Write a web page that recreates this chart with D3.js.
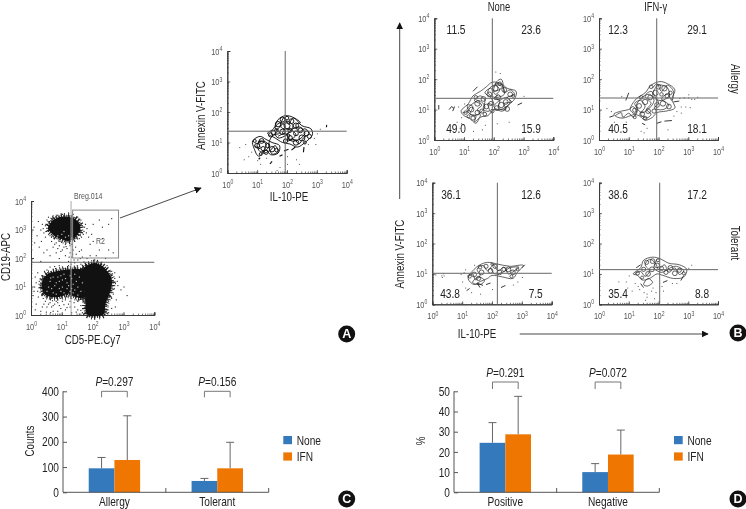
<!DOCTYPE html>
<html><head><meta charset="utf-8">
<script src="https://cdn.jsdelivr.net/npm/d3@7/dist/d3.min.js"></script>
<style>
html,body{margin:0;padding:0;background:#fff}
svg{display:block;filter:blur(0.35px)}
text{font-family:"Liberation Sans",sans-serif;fill:#222}
</style></head><body>
<svg id="c" width="746" height="509"></svg>
<script>
// Bar panels
const allergyCats=["Allergy","Tolerant"];
const apoptosisCats=["Positive","Negative"];
const seriesNames=["None","IFN"];
const countsNone=[95,45], countsIfn=[128,95];
const countsNoneTop=[138,55], countsIfnTop=[303,198];
const pctNone=[24.5,10], pctIfn=[28.7,18.7];
const pctNoneTop=[34.5,14.2], pctIfnTop=[47.5,30.8];
const countsP=["0.297","0.156"], pctP=["0.291","0.072"];
// Flow plots: all coordinates in decades (log10)
const quadAllergyNone=["11.5","23.6","49.0","15.9"];
const quadAllergyIfn=["12.3","29.1","40.5","18.1"];
const quadTolerantNone=["36.1","12.6","43.8","7.5"];
const quadTolerantIfn=["38.6","17.2","35.4","8.8"];
const decades=[0,1,2,3,4];

const scatterBlobs=[
[[0.55,3.05],[0.75,3.35],[1.0,3.45],[1.3,3.42],[1.55,3.25],[1.6,3.0],[1.45,2.75],[1.2,2.6],[0.95,2.68],[0.72,2.82]],
[[0.35,1.1],[0.5,1.4],[0.9,1.55],[1.2,1.6],[1.7,1.55],[1.8,1.0],[1.7,0.6],[1.2,0.7],[0.8,0.62],[0.45,0.72]],
[[1.62,1.5],[1.8,1.72],[2.1,1.82],[2.35,1.68],[2.62,1.25],[2.58,0.85],[2.42,0.4],[2.35,0.02],[1.82,0.02],[1.76,0.5],[1.64,1.0]]
];
const scatterSpecks=[
[.3,3],[.35,3.2],[.4,2.9],[.45,3.15],[.5,3.35],[.45,2.75],[.55,3.45],[.6,2.8],[.65,2.6],[.7,3.5],[.8,2.55],[.85,3.52],[.9,2.45],[1,3.55],[1.05,2.4],[1.1,2.5],[1.2,3.6],[1.25,2.45],[1.3,2.5],[1.35,3.55],[1.4,2.6],[1.5,3.45],[1.55,2.7],[1.6,3.35],[1.65,3.15],[1.7,2.95],[1.72,3.1],[1.68,2.85],[1.75,3.2],[1.8,3.05],[1.62,2.75],[1.78,2.9],[.38,3.05],[.48,2.95],[.52,3.2],[.58,3.3],[.62,2.95],[.68,3.42],[.72,2.72],[.78,3.46],[.82,2.7],[.92,2.6],[1.02,2.55],[1.12,2.42],[1.18,3.5],[1.28,3.5],[1.42,3.42],[1.48,2.72],[1.52,3.38],[1.58,2.85],[1.66,3.0],[.1,2.55],[.08,3.1],[.18,2.8],[.22,3.3],[.25,2.4],[.05,2],[.32,2.6],
[.5,2.3],[.6,2.1],[.7,2.4],[.8,2.2],[.9,2],[1,2.3],[1.1,2.1],[1.15,2.35],[1.2,1.9],[1.25,2.2],[1.3,2.05],[1.35,2.3],[1.4,1.85],[1.45,2.15],[1.5,1.95],[1.55,2.25],[1.6,1.8],[1.65,2.05],[1.22,2.05],[1.28,1.8],[1.33,2.15],[1.38,1.95],[1.43,2.4],[1.48,1.75],[1.58,2],[1.62,2.3],[1.7,1.88],[.75,2.5],[.85,2.35],[.95,2.25],[.4,2.2],[.3,1.9],[1.8,2],[1.9,2.1],
[2,3.2],[2.3,3.1],[2.5,3.2],[2.3,2.7],[2,2.6],[2.5,2.3],[2.1,2.1],[2.4,2],[2.6,3.4],[1.9,2.5],[2.2,2.3],[2.2,3.35],[1.85,2.75],[1.95,2.85],[2.65,2.2],
[.25,1.2],[.3,.9],[.35,1.4],[.38,.6],[.42,1.55],[.45,.5],[.5,1.6],[.55,.4],[.6,1.7],[.65,.3],[.7,.15],[.75,1.72],[.8,.5],[.9,1.75],[.9,.35],[1,.5],[1,1.7],[1.1,.2],[1.1,.55],[1.2,1.75],[1.2,.4],[1.3,.6],[1.3,.1],[1.4,.3],[1.4,1.7],[1.5,.5],[1.5,.2],[1.6,.35],[1.65,.1],[1.7,.5],[.1,1],[.05,.7],[.15,.4],[.2,1.5],[.3,.15],[.48,.12],[.62,.1],[.85,.15],[1.55,.05],[.12,1.35],[.28,1.05],[.33,.75],[.37,1.25],[.42,.85],[.47,.65],[.52,1.5],[.58,.58],[.68,.52],[.78,1.65],[.95,.6],[1.05,1.65],[1.15,.65],[1.35,.68],[1.45,.55],[1.55,.55],
[.2,.85],[.4,.4],[.5,.3],[.75,.4],[.95,.25],[1.05,.38],[1.25,.3],[1.45,.12],[1.6,.18],[1.25,.5],[.6,.45],[.7,.35],[.15,1.15],[.22,.65],[.08,.85],[.12,.2],[.35,.3],[.85,.45],[1.15,.28],[1.38,.45],
[1.62,1.6],[1.68,1.68],[1.75,1.8],[1.85,1.85],[1.95,1.92],[2.05,1.95],[2.15,1.9],[2.25,1.85],[2.35,1.78],[2.45,1.65],[2.55,1.55],[2.62,1.42],[2.7,1.3],[2.72,1.12],[2.68,.95],[2.65,.75],[2.6,.6],[2.5,.5],[2.48,.3],[2.42,.15],[2.78,1.2],[2.85,1.35],[2.8,1.05],[2.9,.9],[2.75,.55],[3,1],[3.1,.7],[2.6,1.55],[2.7,1.5],[2.5,.1],[1.75,.3],[1.78,.12],[2.6,.25],[2.72,.3],[2.45,1.75],
[.55,2.95],[.65,2.75],[1.65,1.2],[1.72,.85],[1.76,.62]
];
const scatterHoles=[[.9,1.2],[1,1],[1.1,1.3],[.75,1.05],[1.2,1.05],[1.3,1.3],[1.15,.95],[.95,.85],[1.4,.9],[.65,.95],[.85,1.35],[1.35,1.1],[1.05,1.45],[1.25,.85],[.98,2.85],[1.1,2.75],[1.2,2.8],[1.3,2.72],[1.05,2.95],[.85,2.8],
[.6,1.2],[.7,.8],[.8,1.15],[.9,.95],[1.0,1.25],[1.05,.8],[1.15,1.15],[1.25,1.4],[1.35,.8],[1.45,1.2],[1.5,1.0],[1.55,1.35],[1.6,.85],[.55,1.0],[.7,1.35],[.95,1.4],[1.4,1.45],[1.1,.72],[.8,.75],[1.5,.72],[.5,.85],[1.65,1.15],[1.2,.75],[.62,1.32],[1.3,.95]];

const contourA=[
[[1.35,1.3],[1.55,1.45],[1.7,1.75],[1.95,1.88],[2.25,1.8],[2.5,1.55],[2.8,1.45],[2.85,1.25],[2.6,1.0],[2.35,.85],[2.1,.95],[1.85,1.0],[1.6,1.15]],
[[.85,1.05],[1.1,1.2],[1.3,1.1],[1.5,1.0],[1.75,.9],[1.7,.65],[1.45,.6],[1.3,.75],[1.05,.55],[.9,.8]],
[[1.6,1.3],[1.75,1.5],[2.0,1.7],[2.2,1.55],[2.1,1.35],[1.9,1.2],[1.7,1.15]],
[[2.0,1.25],[2.2,1.45],[2.45,1.5],[2.6,1.3],[2.4,1.1],[2.15,1.05]],
[[1.0,.95],[1.2,1.05],[1.4,.9],[1.3,.75],[1.1,.7]]
];
const walkA=[[.9,.9],[1.1,.8],[1.05,1.05],[1.3,.95],[1.2,.65],[1.45,.75],[1.6,.9],[1.7,.7],[1.5,.62],[1.4,1.0],[1.55,1.25],[1.75,1.3],[1.6,1.5],[1.8,1.65],[1.95,1.5],[1.85,1.3],[2.1,1.25],[2.0,1.05],[2.25,1.1],[2.4,.95],[2.55,1.15],[2.75,1.3],[2.6,1.45],[2.4,1.35],[2.3,1.6],[2.45,1.65],[2.2,1.8],[2.05,1.6],[1.9,1.82],[1.8,1.5],[2.15,1.4],[2.3,1.25],[2.1,1.1],[1.95,1.3],[1.7,1.2]];
const curlsA=[[1.0,.9,.08],[1.2,.8,.07],[1.15,1.05,.08],[1.35,.9,.07],[1.5,.78,.09],[1.65,.75,.06],[1.3,.68,.07],[1.55,1.32,.08],[1.7,1.6,.09],[1.85,1.75,.08],[2.0,1.55,.1],[2.15,1.7,.08],[2.3,1.55,.09],[2.45,1.4,.08],[2.65,1.3,.08],[2.75,1.2,.07],[2.5,1.15,.1],[2.3,1.0,.09],[2.1,1.15,.08],[1.95,1.05,.07],[1.85,1.35,.09],[2.1,1.4,.07],[2.3,1.3,.08],[1.65,1.4,.06],[1.45,1.25,.07],[2.0,1.8,.06],[1.12,.62,.05],[.92,1.05,.05],[2.6,1.0,.05]];
const fragA=[[[1.43,.3],[1.5,.38]],[[2.55,.68],[2.57,.85]],[[1.9,.72],[2.05,.78]],[[2.15,.75],[2.28,.85]],[[1.75,.55],[1.85,.6]],[[1.05,.45],[1.1,.5]],[[3.32,1.5],[3.33,1.58]]];
const specksA=[[.4,.85],[.6,.95],[.7,.55],[.8,.7],[.55,.45],[1.0,.42],[1.3,.5],[2.0,.55],[2.3,.45],[2.4,.3],[2.0,.3],[1.65,.1],[2.9,1.15],[3.0,1.3],[2.95,.95],[1.1,.3],[2.7,.95],[3.1,1.45],[1.75,.2]];

const contourAllergyNone=[
[[.9,.95],[1.15,1.2],[1.3,1.45],[1.55,1.6],[1.75,1.75],[1.95,1.9],[2.25,1.85],[2.45,1.7],[2.75,1.6],[2.7,1.35],[2.5,1.15],[2.3,.95],[2.0,1.0],[1.8,.8],[1.55,.75],[1.4,.55],[1.2,.7],[1.0,.8]],
[[1.1,1.0],[1.3,1.2],[1.5,1.3],[1.7,1.1],[1.55,.9],[1.3,.8]],
[[1.8,1.6],[2.0,1.8],[2.3,1.75],[2.35,1.5],[2.1,1.4],[1.9,1.45]],
[[2.0,1.1],[2.2,1.3],[2.45,1.4],[2.55,1.25],[2.35,1.05],[2.15,1.0]],
[[2.0,1.6],[2.1,1.92],[2.25,2.0],[2.3,1.75]]
];
const walkAllergyNone=[[.95,.9],[1.15,.95],[1.1,1.15],[1.3,1.1],[1.2,.85],[1.4,.8],[1.35,.6],[1.55,.8],[1.45,1.0],[1.6,1.15],[1.35,1.3],[1.55,1.45],[1.7,1.3],[1.65,1.0],[1.85,.95],[1.8,1.2],[2.0,1.15],[1.9,1.4],[1.7,1.55],[1.9,1.7],[2.05,1.5],[2.2,1.65],[2.05,1.85],[2.3,1.8],[2.35,1.55],[2.55,1.65],[2.7,1.5],[2.45,1.4],[2.6,1.25],[2.35,1.2],[2.4,1.0],[2.15,1.05],[2.2,1.3],[2.0,1.35],[2.15,1.5]];
const curlsAllergyNone=[[1.05,.9,.06],[1.25,1.0,.08],[1.3,.72,.07],[1.45,.9,.08],[1.6,.95,.07],[1.45,1.2,.09],[1.65,1.35,.08],[1.75,1.1,.08],[1.9,1.2,.07],[1.85,1.5,.08],[2.05,1.7,.09],[2.15,1.4,.08],[2.25,1.15,.09],[2.4,1.25,.08],[2.45,1.02,.08],[2.35,1.65,.08],[2.55,1.5,.08],[2.1,1.05,.08],[1.95,.95,.06],[2.2,1.85,.06],[1.4,1.4,.06],[1.7,.85,.06],[2.65,1.45,.05],[1.15,.78,.05]];
const fragAllergyNone=[[[.15,1.0],[.15,1.15]],[[.5,1.0],[.58,1.1],[.65,1.05]],[[.62,.95],[.68,1.1]],[[2.8,1.15],[2.95,1.22]],[[1.3,1.6],[1.45,1.75]]];
const specksAllergyNone=[[.8,1.1],[.9,.75],[.75,.6],[.9,.55],[1.0,1.2],[1.3,.3],[1.6,.35],[2.1,.55],[2.5,.6],[2.2,2.2],[2.05,2.25],[3.0,1.45],[.85,.4],[1.7,.5]];

const contourAllergyIfn=[
[[1.05,1.0],[1.25,1.35],[1.55,1.55],[1.75,1.8],[2.05,1.92],[2.3,1.85],[2.55,1.65],[2.45,1.35],[2.55,1.05],[2.25,.95],[1.95,.9],[1.8,.75],[1.55,.65],[1.35,.8],[1.2,.85]],
[[1.25,1.1],[1.45,1.4],[1.7,1.5],[1.85,1.3],[1.7,1.05],[1.45,.9]],
[[1.8,1.5],[2.0,1.8],[2.3,1.72],[2.35,1.45],[2.1,1.3],[1.9,1.35]],
[[.5,.85],[.75,.95],[1.0,1.0],[1.15,1.1],[1.25,.9],[1.0,.78],[.8,.72],[.62,.75]]
];
const walkAllergyIfn=[[.55,.8],[.75,.9],[.8,.75],[1.0,.88],[1.15,.75],[1.3,1.0],[1.2,1.2],[1.4,1.3],[1.55,1.1],[1.4,.85],[1.6,.72],[1.75,.85],[1.6,1.0],[1.75,1.2],[1.55,1.45],[1.75,1.6],[1.9,1.4],[2.0,1.2],[1.85,1.05],[2.15,1.0],[2.35,1.15],[2.1,1.35],[2.3,1.5],[2.45,1.3],[2.5,1.6],[2.3,1.8],[2.1,1.6],[1.95,1.85],[1.8,1.7]];
const curlsAllergyIfn=[[1.2,.98,.07],[1.35,1.12,.08],[1.45,.85,.08],[1.55,1.25,.09],[1.65,.95,.08],[1.72,1.4,.08],[1.9,1.55,.09],[2.0,1.75,.08],[2.2,1.7,.09],[2.3,1.45,.08],[2.1,1.5,.06],[2.15,1.2,.09],[2.35,1.1,.08],[1.95,1.15,.08],[1.85,.95,.07],[1.55,.72,.06],[2.4,1.55,.06],[1.42,1.4,.06],[1.2,.75,.05],[1.75,1.75,.06]];
const fragAllergyIfn=[[[1.0,1.55],[.9,1.3]],[[2.2,.62],[2.45,.64]],[[.35,.75],[.5,.8]],[[2.5,1.25],[2.7,1.28]],[[1.95,.55],[2.1,.6]],[[1.45,.55],[1.55,.5]]];
const specksAllergyIfn=[[.25,1.05],[.4,.95],[.5,.6],[.75,1.45],[2.7,1.38],[2.85,1.4],[3.0,1.5],[3.1,1.35],[2.75,1.1],[2.9,1.1],[3.05,1.08],[2.6,.95],[2.75,.9],[3.0,1.4],[1.6,.4],[1.5,.25],[1.4,.3],[2.3,.35],[.9,.6],[2.5,.8],[3.2,1.35],[3.3,1.42]];

const contourTolerantNone=[
[[1.2,.85],[1.4,1.15],[1.6,1.3],[1.85,1.38],[2.2,1.32],[2.6,1.25],[3.05,1.28],[2.85,1.05],[2.7,.85],[2.35,.9],[2.0,.95],[1.85,.85],[1.6,.75],[1.4,.65]],
[[1.35,.72],[1.55,.9],[1.75,.78],[1.6,.65]]
];
const walkTolerantNone=[[1.2,.9],[1.35,1.0],[1.45,.8],[1.6,.95],[1.5,1.15],[1.7,1.28],[1.85,1.1],[2.05,1.3],[2.2,1.1],[2.4,1.22],[2.55,1.0],[2.75,1.1],[2.9,1.22],[2.6,1.2],[2.35,1.05],[2.1,1.0],[1.95,1.2]];
const curlsTolerantNone=[[1.25,.92,.06],[1.4,.98,.08],[1.55,.85,.07],[1.65,1.05,.08],[1.6,1.22,.06],[1.8,1.25,.07],[1.95,1.1,.08],[2.1,1.25,.07],[2.25,1.05,.08],[2.4,1.15,.07],[2.55,1.15,.08],[2.7,1.05,.08],[2.65,.92,.05],[2.85,1.15,.05],[2.0,1.32,.04]];
const fragTolerantNone=[[[1.6,.55],[1.5,.7],[1.7,.62]],[[1.15,.45],[1.25,.52]],[[2.3,.55],[2.45,.62]],[[1.8,.65],[1.95,.7]],[[3.0,1.2],[3.1,1.3]]];
const specksTolerantNone=[[.1,.98],[.3,.95],[.35,1.02],[.38,.95],[.32,.9],[.95,1.0],[1.0,.75],[1.05,1.05],[1.1,.55],[1.3,.4],[1.6,.35],[1.1,1.15],[1.4,1.3],[2.0,.5],[2.7,.65],[2.85,.75],[3.0,.9]];

const contourTolerantIfn=[
[[1.15,1.0],[1.4,1.2],[1.5,1.45],[1.8,1.55],[2.05,1.5],[2.35,1.35],[2.7,1.3],[2.95,1.15],[2.85,.9],[2.5,.85],[2.15,.95],[1.95,1.0],[1.7,.85],[1.45,.8],[1.3,.95]],
[[1.5,.65],[1.65,.85],[1.8,.72],[1.62,.6]]
];
const walkTolerantIfn=[[1.2,1.0],[1.4,1.08],[1.55,.92],[1.7,1.1],[1.55,1.3],[1.7,1.48],[1.9,1.35],[2.0,1.15],[2.2,1.3],[2.35,1.05],[2.55,1.2],[2.7,.98],[2.85,1.1],[2.6,1.25],[2.4,1.2],[2.1,1.05],[1.85,1.2],[1.95,1.48]];
const curlsTolerantIfn=[[1.3,1.02,.06],[1.5,1.15,.07],[1.65,1.0,.08],[1.6,1.38,.07],[1.8,1.42,.08],[1.78,1.15,.08],[1.95,1.28,.08],[2.1,1.18,.07],[2.25,1.05,.07],[2.4,1.2,.08],[2.55,1.02,.08],[2.7,1.12,.07],[1.45,.88,.05],[2.85,1.02,.05],[1.98,1.45,.05]];
const fragTolerantIfn=[[[1.5,.55],[1.4,.68]],[[2.15,.72],[2.3,.78]],[[2.75,.78],[2.85,.95]],[[1.25,1.2],[1.4,1.3]]];
const specksTolerantIfn=[[.65,.75],[.95,.55],[1.0,.95],[1.1,.45],[1.3,.6],[1.5,.4],[1.6,.35],[1.6,.25],[1.75,.45],[1.8,.55],[1.55,.15],[1.85,.2],[2.1,.6],[2.45,.7],[2.15,.45],[3.0,1.2],[3.1,1.3],[2.6,.7],[1.35,.5],[1.9,.4],[.9,.75],[1.2,.7]];

const svg=d3.select("#c");
const ink="#3c3c3c";

function flowAxes(g,r){
  const x=d3.scaleLog().domain([1,1e4]).range([r.x0,r.x1]);
  const y=d3.scaleLog().domain([1,1e4]).range([r.y0,r.y1]);
  const major=decades.map(d=>Math.pow(10,d));
  const lab=sel=>{
    sel.selectAll(".tick text").each(function(d){
      const t=d3.select(this);
      t.text("10").attr("font-size",9.5).style("fill","#555");
      t.append("tspan").text(Math.round(Math.log10(d))).attr("font-size",6.5).attr("dy",-3.5);
    });
  };
  const nx=g.append("g").attr("transform",`translate(0,${r.y0})`)
    .call(d3.axisBottom(x).tickValues(x.ticks()).tickSize(-1.5).tickFormat(""));
  const ny=g.append("g").attr("transform",`translate(${r.x0},0)`)
    .call(d3.axisLeft(y).tickValues(y.ticks()).tickSize(-1.5).tickFormat(""));
  nx.selectAll("text").remove(); ny.selectAll("text").remove();
  const mx=g.append("g").attr("transform",`translate(0,${r.y0})`)
    .call(d3.axisBottom(x).tickValues(major).tickSize(-3).tickPadding(8).tickFormat(()=>"10"));
  const my=g.append("g").attr("transform",`translate(${r.x0},0)`)
    .call(d3.axisLeft(y).tickValues(major).tickSize(-3).tickPadding(5).tickFormat(()=>"10"));
  lab(mx);lab(my);
  g.selectAll(".domain").attr("stroke",ink).attr("stroke-width",1);
  g.selectAll(".tick line").attr("stroke",ink).attr("stroke-width",.7);
  return {x:v=>x(Math.pow(10,v)),y:v=>y(Math.pow(10,v))};
}
function gate(g,s,r,vx,hy,c="#666"){
  g.append("line").attr("x1",s.x(vx)).attr("x2",s.x(vx)).attr("y1",r.y0).attr("y2",r.y1).attr("stroke",c).attr("stroke-width",1);
  g.append("line").attr("x1",r.x0).attr("x2",r.x1).attr("y1",s.y(hy)).attr("y2",s.y(hy)).attr("stroke",c).attr("stroke-width",1);
}
function contours(g,s,rings,walk,curls,frags,specks,w,col){
  const closed=d3.line().x(d=>s.x(d[0])).y(d=>s.y(d[1])).curve(d3.curveCatmullRomClosed);
  const open=d3.line().x(d=>s.x(d[0])).y(d=>s.y(d[1]));
  const scrib=d3.line().x(d=>s.x(d[0])).y(d=>s.y(d[1])).curve(d3.curveCatmullRom);
  const pxPerDecade=s.x(1)-s.x(0);
  g.selectAll(null).data(rings).join("path").attr("d",closed).attr("fill","none").attr("stroke",col).attr("stroke-width",w);
  g.append("path").datum(walk).attr("d",scrib).attr("fill","none").attr("stroke",col).attr("stroke-width",w);
  g.selectAll(null).data(curls).join("circle").attr("cx",d=>s.x(d[0])).attr("cy",d=>s.y(d[1])).attr("r",d=>d[2]*pxPerDecade).attr("fill","none").attr("stroke",col).attr("stroke-width",w);
  g.selectAll(null).data(frags).join("path").attr("d",open).attr("fill","none").attr("stroke",col).attr("stroke-width",w+.2);
  g.selectAll(null).data(specks).join("rect").attr("x",d=>s.x(d[0])).attr("y",d=>s.y(d[1])).attr("width",1).attr("height",1).attr("fill","#555");
}
function label(t,x,y,size,opt={}){
  const e=svg.append("text").attr("x",x).attr("y",y).attr("font-size",size).attr("text-anchor",opt.anchor||"middle").text(t);
  if(opt.rot!=null)e.attr("transform",`rotate(${opt.rot} ${x} ${y})`);
  if(opt.fill)e.style("fill",opt.fill);
  return e;
}
svg.append("defs").append("marker").attr("id","ah").attr("viewBox","0 0 10 10").attr("refX",9).attr("refY",5)
  .attr("markerWidth",7).attr("markerHeight",7).attr("markerUnits","userSpaceOnUse").attr("orient","auto")
  .append("path").attr("d","M0,0L10,5L0,10Z").attr("fill","#111");
function arrow(x1,y1,x2,y2){
  svg.append("line").attr("x1",x1).attr("y1",y1).attr("x2",x2).attr("y2",y2).attr("stroke","#333").attr("stroke-width",.9).attr("marker-end","url(#ah)");
}
function badge(x,y,t){
  svg.append("circle").attr("cx",x).attr("cy",y).attr("r",8.5).attr("fill","#111");
  svg.append("text").attr("class","badge").attr("x",x).attr("y",y+4.3).attr("text-anchor","middle").attr("font-size",12.5).attr("font-weight","bold")
    .style("fill","#fff").text(t);
}

// Panel A scatter
{
  const r={x0:31,x1:154.3,y0:315,y1:201};
  const g=svg.append("g"), s=flowAxes(g,r);
  const blob=d3.line().x(d=>s.x(d[0])).y(d=>s.y(d[1])).curve(d3.curveCatmullRomClosed);
  // fuzzy edges of the dense populations
  [[7,"0.9 2.3 0.7 3.6 1.1 1.9 0.8 2.9"],[3.5,"1.4 1 0.9 1.6"]].forEach(([w,dash])=>
    g.selectAll(null).data(scatterBlobs).join("path").attr("d",blob).attr("fill","none").attr("stroke","#222").attr("stroke-width",w).attr("stroke-dasharray",dash));
  g.selectAll(null).data(scatterBlobs).join("path").attr("d",blob).attr("fill","#111");
  g.selectAll(null).data(scatterSpecks).join("rect").attr("x",d=>s.x(d[0])).attr("y",d=>s.y(d[1])).attr("width",1.1).attr("height",1.1).attr("fill","#222");
  g.selectAll(null).data(scatterHoles).join("rect").attr("x",d=>s.x(d[0])).attr("y",d=>s.y(d[1])).attr("width",1.2).attr("height",1.2).attr("fill","#bbb");
  g.append("line").attr("x1",s.x(1.3)).attr("x2",s.x(1.3)).attr("y1",r.y0).attr("y2",r.y1).attr("stroke","#aaa").attr("stroke-width",1);
  g.append("line").attr("x1",r.x0).attr("x2",r.x1).attr("y1",s.y(1.85)).attr("y2",s.y(1.85)).attr("stroke","#555").attr("stroke-width",.9);
  g.append("rect").attr("x",s.x(1.35)).attr("y",s.y(3.68)).attr("width",s.x(2.84)-s.x(1.35)).attr("height",s.y(2.0)-s.y(3.68)).attr("fill","none").attr("stroke","#888").attr("stroke-width",1);
  label("Breg.014",74,199,9,{anchor:"start",fill:"#555"});
  label("R2",100.5,244,9,{fill:"#555"});
  label("CD19-APC",9.5,257,12.5,{rot:-90});
  label("CD5-PE.Cy7",92.7,344,12.5);
}
arrow(120,218,201,188);
// Panel A contour
{
  const r={x0:227.3,x1:346.7,y0:173,y1:51};
  const g=svg.append("g"), s=flowAxes(g,r);
  contours(g,s,contourA,walkA,curlsA,fragA,specksA,.95,"#111");
  gate(g,s,r,1.94,1.37);
  label("Annexin V-FITC",205,115.5,12.5,{rot:-90});
  label("IL-10-PE",289,201,12.5);
}
badge(346.7,334,"A");

// Panel B
const bPlots=[
 {r:{x0:434.3,x1:553.3,y0:140,y1:18.3},gate:[1.95,1.37],c:contourAllergyNone,t:walkAllergyNone,u:curlsAllergyNone,f:fragAllergyNone,p:specksAllergyNone,q:quadAllergyNone,qx:[456,531,456,531],qy:[34,133]},
 {r:{x0:599,x1:718,y0:140,y1:18.3},gate:[1.94,1.38],c:contourAllergyIfn,t:walkAllergyIfn,u:curlsAllergyIfn,f:fragAllergyIfn,p:specksAllergyIfn,q:quadAllergyIfn,qx:[618,697,618,697],qy:[34,133]},
 {r:{x0:432.3,x1:551.7,y0:304.3,y1:182.7},gate:[2.18,1.02],c:contourTolerantNone,t:walkTolerantNone,u:curlsTolerantNone,f:fragTolerantNone,p:specksTolerantNone,q:quadTolerantNone,qx:[451,531,450,535.7],qy:[198.7,298.3]},
 {r:{x0:599,x1:718,y0:304.3,y1:182.7},gate:[2.04,1.14],c:contourTolerantIfn,t:walkTolerantIfn,u:curlsTolerantIfn,f:fragTolerantIfn,p:specksTolerantIfn,q:quadTolerantIfn,qx:[618,697,618,702],qy:[198.7,298.3]}
];
bPlots.forEach(b=>{
  const g=svg.append("g"), s=flowAxes(g,b.r);
  contours(g,s,b.c,b.t,b.u,b.f,b.p,.7,"#222");
  gate(g,s,b.r,b.gate[0],b.gate[1]);
  b.q.forEach((t,i)=>label(t,b.qx[i],i<2?b.qy[0]:b.qy[1],13));
});
label("None",499,11,12);
label("IFN-γ",655.7,11,12);
label("Allergy",731,79,12.5,{rot:90});
label("Tolerant",731,243,12.5,{rot:90});
label("Annexin V-FITC",404,254,12.5,{rot:-90});
label("IL-10-PE",477,338,12.5);
arrow(399.7,199,399.7,23);
arrow(519.7,334,708,334);
badge(738,333,"B");

// Panels C, D
function barPanel(o){
  const g=svg.append("g");
  const x=d3.scaleBand().domain(o.cats).range([o.x0,o.x1]);
  const y=d3.scaleLinear().domain([0,o.max]).range([492.3,391.3]);
  const w=o.barW;
  const rows=o.cats.map((c,i)=>[
    {c,o:-w,v:o.none[i],t:o.noneTop[i],col:"#3579bd"},
    {c,o:0,v:o.ifn[i],t:o.ifnTop[i],col:"#ee7601"}]).flat();
  const cx=c=>x(c)+x.bandwidth()/2;
  const eb=g.selectAll(null).data(rows).join("g");
  eb.append("line").attr("x1",d=>cx(d.c)+d.o+w/2).attr("x2",d=>cx(d.c)+d.o+w/2).attr("y1",d=>y(d.v)).attr("y2",d=>y(d.t)).attr("stroke","#666").attr("stroke-width",1);
  eb.append("line").attr("x1",d=>cx(d.c)+d.o+w/2-4).attr("x2",d=>cx(d.c)+d.o+w/2+4).attr("y1",d=>y(d.t)).attr("y2",d=>y(d.t)).attr("stroke","#666").attr("stroke-width",1);
  g.selectAll(null).data(rows).join("rect").attr("x",d=>cx(d.c)+d.o).attr("width",w).attr("y",d=>y(d.v)).attr("height",d=>y(0)-y(d.v)).attr("fill",d=>d.col);
  const ay=g.append("g").attr("transform",`translate(${o.x0},0)`).call(d3.axisLeft(y).tickValues(o.ticks).tickSize(-4).tickPadding(4));
  ay.selectAll("text").attr("font-size",13).style("fill","#222");
  const ax=g.append("g").attr("transform","translate(0,492.3)").call(d3.axisBottom(x).tickSize(0).tickPadding(4.5));
  ax.selectAll("text").attr("font-size",13).style("fill","#222");
  [x.range()[0]+x.bandwidth(),x.range()[1]].forEach(v=>g.append("line").attr("x1",v).attr("x2",v).attr("y1",492.3).attr("y2",488).attr("stroke","#555"));
  g.selectAll(".domain").attr("stroke","#555");
  g.selectAll(".tick line").attr("stroke","#555");
  ay.select(".domain").attr("d",`M0,${y(o.max)}V${y(0)}`);
  ax.select(".domain").attr("d",`M${x.range()[0]},0H${x.range()[1]}`);
  o.p.forEach((t,i)=>{
    const c=cx(o.cats[i]), h=w/2;
    g.append("path").attr("d",`M${c-h},${o.brB}V${o.brT}H${c+h}V${o.brB}`).attr("fill","none").attr("stroke","#777");
    const e=g.append("text").attr("x",c).attr("y",o.brT-5).attr("text-anchor","middle").attr("font-size",13);
    e.append("tspan").attr("font-style","italic").text("P");
    e.append("tspan").text("="+t);
  });
  seriesNames.forEach((n,i)=>{
    g.append("rect").attr("x",o.lx).attr("y",436+i*16.4).attr("width",8.7).attr("height",8.2).attr("fill",i?"#ee7601":"#3579bd");
    g.append("text").attr("x",o.lx+13.4).attr("y",444.5+i*16.4).attr("font-size",13).text(n);
  });
  label(o.ylab,o.ylabX,441,12.5,{rot:-90});
}
barPanel({cats:allergyCats,none:countsNone,ifn:countsIfn,noneTop:countsNoneTop,ifnTop:countsIfnTop,p:countsP,max:400,ticks:[0,100,200,300,400],x0:63,x1:268.7,barW:25.7,brT:391.3,brB:397.3,lx:283.3,ylab:"Counts",ylabX:34});
barPanel({cats:apoptosisCats,none:pctNone,ifn:pctIfn,noneTop:pctNoneTop,ifnTop:pctIfnTop,p:pctP,max:50,ticks:[0,10,20,30,40,50],x0:454,x1:659.3,barW:25.7,brT:382,brB:389,lx:674,ylab:"%",ylabX:425});
badge(346.7,499,"C");
badge(738,499,"D");

// The reference type is a condensed face: narrow every label horizontally
svg.selectAll("text").each(function(){
  if(this.getAttribute("class")==="badge")return;
  const len=this.getComputedTextLength();
  if(len>0){this.setAttribute("textLength",(len*0.78).toFixed(2));this.setAttribute("lengthAdjust","spacingAndGlyphs");}
});
</script>
</body></html>
